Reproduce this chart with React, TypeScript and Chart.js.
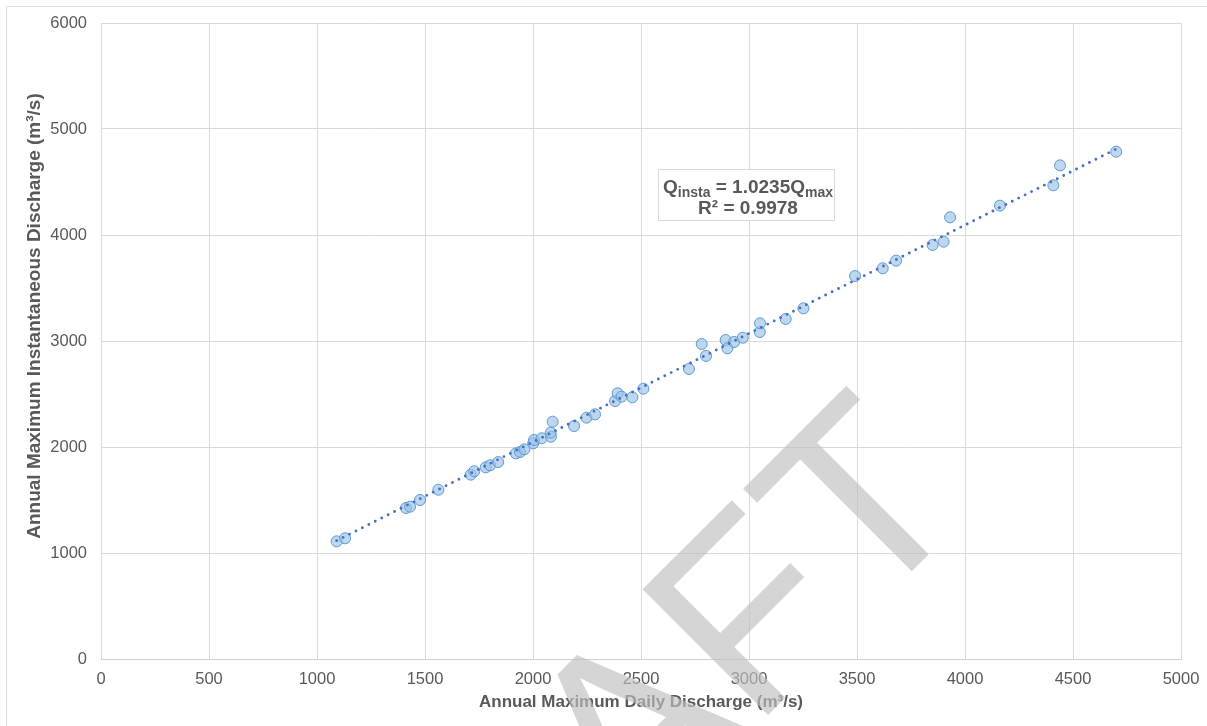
import React, { useEffect, useRef } from "react";
import { Chart, registerables } from "chart.js";

Chart.register(...registerables);

// Annual maximum daily discharge (m³/s), one value per year
const dailyMax = [
  1091, 1130, 1412, 1431, 1477, 1562, 1712, 1728, 1781, 1801, 1839, 1921, 1940,
  1960, 2001, 2005, 2040, 2083, 2082, 2091, 2190, 2248, 2287, 2380, 2392, 2410,
  2460, 2511, 2722, 2781, 2801, 2892, 2900, 2931, 2971, 3050, 3051, 3170, 3252,
  3491, 3619, 3681, 3850, 3901, 3931, 4162, 4409, 4440, 4700,
];

// Annual maximum instantaneous discharge (m³/s), same years
const instMax = [
  1110, 1139, 1425, 1437, 1500, 1597, 1739, 1771, 1808, 1827, 1858, 1940, 1953,
  1978, 2035, 2066, 2082, 2097, 2135, 2239, 2198, 2277, 2308, 2434, 2507, 2475,
  2469, 2550, 2736, 2972, 2859, 3009, 2931, 2991, 3031, 3085, 3167, 3208, 3308,
  3613, 3686, 3758, 3906, 3937, 4167, 4277, 4469, 4657, 4786,
];

const xTickValues = [0, 500, 1000, 1500, 2000, 2500, 3000, 3500, 4000, 4500, 5000];
const yTickValues = [0, 1000, 2000, 3000, 4000, 5000, 6000];

// Linear fit through the origin
const SLOPE = 1.0235;
const R_SQUARED = "0.9978";

const X_TITLE = "Annual Maximum Daily Discharge (m³/s)";
const Y_TITLE = "Annual Maximum Instantaneous Discharge (m³/s)";
const WATERMARK = "DRAFT";

const FONT = "'Liberation Sans', Arial, sans-serif";
const TEXT = "#595959";
const GRID = "#d9d9d9";

export default function App() {
  const ref = useRef<HTMLCanvasElement>(null);

  useEffect(() => {
    document.body.style.margin = "0";
    const canvas = ref.current;
    if (!canvas) return;

    const points = dailyMax.map((x, i) => ({ x, y: instMax[i] }));
    const xLo = Math.min(...dailyMax);
    const xHi = Math.max(...dailyMax);
    const fit = [
      { x: xLo, y: SLOPE * xLo },
      { x: xHi, y: SLOPE * xHi },
    ];

    const framePlugin = {
      id: "frame",
      beforeDraw(chart: any) {
        const { ctx, width, height } = chart;
        ctx.save();
        ctx.fillStyle = "#ffffff";
        ctx.fillRect(0, 0, width, height);
        ctx.strokeStyle = "#dedede";
        ctx.lineWidth = 1;
        ctx.beginPath();
        ctx.moveTo(6.5, height);
        ctx.lineTo(6.5, 6.5);
        ctx.lineTo(width, 6.5);
        ctx.stroke();
        ctx.restore();
      },
      afterDraw(chart: any) {
        // vertical axis title
        const { ctx, chartArea } = chart;
        ctx.save();
        ctx.translate(35, chartArea.top + 293);
        ctx.rotate(-Math.PI / 2);
        ctx.font = `bold 19px ${FONT}`;
        ctx.fillStyle = TEXT;
        ctx.textAlign = "center";
        ctx.textBaseline = "middle";
        ctx.fillText(Y_TITLE, 0, 0);
        ctx.restore();
      },
    };

    // Equation / R² label box for the trendline
    const fitLabelPlugin = {
      id: "fitLabel",
      afterDatasetsDraw(chart: any) {
        const { ctx, chartArea } = chart;
        const left = chartArea.left + 557;
        const top = chartArea.top + 146;
        const w = 176;
        const h = 51;
        ctx.save();
        ctx.fillStyle = "#ffffff";
        ctx.fillRect(left, top, w, h);
        ctx.strokeStyle = GRID;
        ctx.lineWidth = 1;
        ctx.strokeRect(left + 0.5, top + 0.5, w, h);

        const main = `bold 19px ${FONT}`;
        const sub = `bold 14px ${FONT}`;
        const parts: [string, boolean][] = [
          ["Q", false],
          ["insta", true],
          [` = ${SLOPE}Q`, false],
          ["max", true],
        ];
        let total = 0;
        for (const [t, s] of parts) {
          ctx.font = s ? sub : main;
          total += ctx.measureText(t).width;
        }
        const cx = left + w / 2 + 2;
        let x = cx - total / 2;
        ctx.fillStyle = TEXT;
        ctx.textBaseline = "alphabetic";
        ctx.textAlign = "left";
        for (const [t, s] of parts) {
          ctx.font = s ? sub : main;
          ctx.fillText(t, x, top + (s ? 28 : 24));
          x += ctx.measureText(t).width;
        }
        ctx.font = main;
        ctx.textAlign = "center";
        ctx.fillText(`R² = ${R_SQUARED}`, cx, top + 45);
        ctx.restore();
      },
    };

    const watermarkPlugin = {
      id: "watermark",
      afterDraw(chart: any) {
        const { ctx } = chart;
        ctx.save();
        ctx.translate(672, 811);
        ctx.rotate(-Math.PI / 4);
        ctx.font = `258px ${FONT}`;
        ctx.textAlign = "center";
        ctx.textBaseline = "alphabetic";
        ctx.fillStyle = "rgba(192,192,192,0.66)";
        ctx.fillText(WATERMARK, 0, 0);
        ctx.restore();
      },
    };

    const chart = new Chart(canvas, {
      type: "scatter",
      data: {
        datasets: [
          {
            type: "line",
            label: "Linear fit",
            data: fit,
            order: 0,
            borderColor: "#4472C4",
            borderWidth: 2.9,
            borderDash: [0, 7.2],
            borderCapStyle: "round",
            pointRadius: 0,
            fill: false,
            tension: 0,
          },
          {
            label: "Annual maxima",
            data: points,
            order: 1,
            pointRadius: 5.5,
            pointBackgroundColor: "rgba(155,194,230,0.65)",
            pointBorderColor: "#5B9BD5",
            pointBorderWidth: 1,
          },
        ],
      },
      options: {
        responsive: false,
        animation: false,
        layout: { padding: { top: 23, right: 26, left: 0, bottom: 0 } },
        plugins: {
          legend: { display: false },
          tooltip: { enabled: false },
        },
        scales: {
          x: {
            type: "linear",
            min: 0,
            max: 5000,
            afterBuildTicks: (s: any) => {
              s.ticks = xTickValues.map((v) => ({ value: v }));
            },
            afterFit: (s: any) => {
              s.height = 67;
              s.paddingLeft = 0;
              s.paddingRight = 0;
            },
            ticks: {
              color: TEXT,
              font: { family: FONT, size: 16.5 },
              padding: 11,
              maxRotation: 0,
              callback: (v: any) => String(v),
            },
            grid: { color: GRID, drawTicks: false },
            border: { color: "#d0d0d0" },
            title: {
              display: true,
              text: X_TITLE,
              color: TEXT,
              font: { family: FONT, size: 17, weight: "bold" },
              padding: { top: 0, bottom: 13 },
            },
          },
          y: {
            type: "linear",
            min: 0,
            max: 6000,
            afterBuildTicks: (s: any) => {
              s.ticks = yTickValues.map((v) => ({ value: v }));
            },
            afterFit: (s: any) => {
              s.width = 101;
              s.paddingTop = 0;
              s.paddingBottom = 0;
            },
            ticks: {
              color: TEXT,
              font: { family: FONT, size: 16.5 },
              padding: 14,
              callback: (v: any) => String(v),
            },
            grid: { color: GRID, drawTicks: false },
            border: { color: GRID },
            title: { display: false },
          },
        },
      },
      plugins: [framePlugin, fitLabelPlugin, watermarkPlugin],
    } as any);

    return () => chart.destroy();
  }, []);

  return (
    <canvas
      ref={ref}
      width={1207}
      height={726}
      style={{ display: "block", width: 1207, height: 726 }}
    />
  );
}
